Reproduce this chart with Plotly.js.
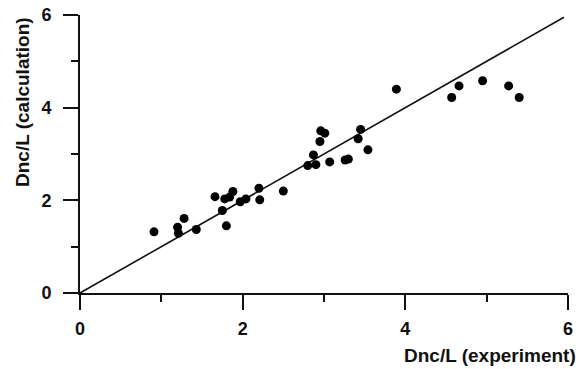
<!DOCTYPE html>
<html>
<head>
<meta charset="utf-8">
<script src="https://cdn.plot.ly/plotly-3.0.1.min.js"></script>
<style>html,body{margin:0;padding:0;background:#fff;}#chart{width:586px;height:369px;}</style>
</head>
<body>
<div id="chart"></div>
<script>
// Data
const expX = [0.91, 1.20, 1.21, 1.28, 1.43, 1.66, 1.75, 1.80, 1.78, 1.84, 1.88, 1.97, 2.04, 2.20, 2.21, 2.50,
  2.80, 2.87, 2.90, 2.95, 2.96, 3.01, 3.07, 3.26, 3.30, 3.42, 3.45, 3.54, 3.89, 4.57, 4.66, 4.95, 5.27, 5.40];
const calcY = [1.32, 1.42, 1.29, 1.61, 1.37, 2.08, 1.78, 1.45, 2.03, 2.07, 2.19, 1.97, 2.03, 2.26, 2.01, 2.20,
  2.75, 2.98, 2.77, 3.27, 3.50, 3.45, 2.83, 2.87, 2.89, 3.33, 3.53, 3.09, 4.40, 4.22, 4.47, 4.58, 4.47, 4.22];
const lineX = [0, 5.95];
const lineY = [0, 5.95];
const tickVals = [0, 2, 4, 6];
const tickText = ['0', '2', '4', '6'];
const xTitle = 'Dnc/L (experiment)';
const yTitle = 'Dnc/L (calculation)';

const FONT = 'Liberation Sans, Arial, sans-serif';
const b = s => '<b>' + s + '</b>';

const traces = [
  {x: lineX, y: lineY, mode: 'lines', line: {color: '#111', width: 1.6}, hoverinfo: 'skip', showlegend: false},
  {x: expX, y: calcY, mode: 'markers', marker: {color: '#000', size: 9}, showlegend: false, cliponaxis: false}
];

const axisCommon = {
  range: [0, 6], showgrid: false, zeroline: false, showline: true, linecolor: '#111', linewidth: 2,
  ticks: 'outside', ticklen: 15, tickwidth: 2, tickcolor: '#111',
  tickvals: tickVals, ticktext: tickText.map(b),
  tickfont: {family: FONT, size: 18, color: '#111'},
  minor: {tickvals: [1, 3, 5], ticks: 'outside', ticklen: 7, tickwidth: 2, tickcolor: '#111', showgrid: false},
  fixedrange: true
};

const layout = {
  width: 586, height: 369,
  margin: {l: 80, r: 18, t: 15, b: 76},
  paper_bgcolor: '#fff', plot_bgcolor: '#fff',
  font: {family: FONT, color: '#111'},
  xaxis: Object.assign({}, axisCommon, {ticklabelstandoff: 3}),
  yaxis: Object.assign({}, axisCommon, {ticklabelstandoff: 8}),
  annotations: [
    {
      text: b(xTitle), xref: 'paper', yref: 'paper', x: 1, y: 0, xanchor: 'right', yanchor: 'middle',
      xshift: 10, yshift: -62, showarrow: false,
      font: {family: FONT, size: 19, color: '#111'}
    },
    {
      text: b(yTitle), xref: 'paper', yref: 'paper', x: 0, y: 0.687, xanchor: 'center', yanchor: 'middle',
      xshift: -58, textangle: -90, showarrow: false,
      font: {family: FONT, size: 19, color: '#111'}
    }
  ]
};

Plotly.newPlot('chart', traces, layout, {staticPlot: true, displayModeBar: false});
</script>
</body>
</html>
